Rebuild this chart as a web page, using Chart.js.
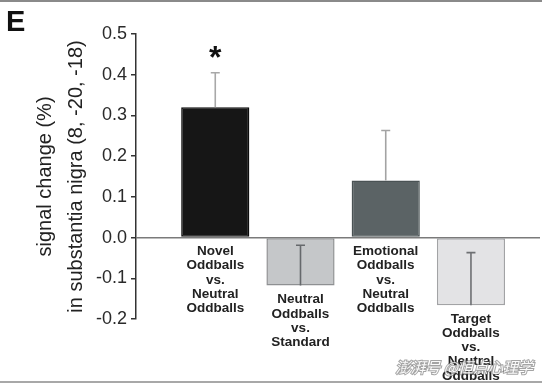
<!DOCTYPE html>
<html>
<head>
<meta charset="utf-8">
<script src="https://cdn.jsdelivr.net/npm/chart.js@4/dist/chart.umd.min.js"></script>
<style>
  html, body { margin: 0; padding: 0; background: #fff; }
  canvas { display: block; }
</style>
</head>
<body>
<canvas id="chart" width="542" height="383"></canvas>
<script>
// data
var categories = [
  ["Novel", "Oddballs", "vs.", "Neutral", "Oddballs"],
  ["Neutral", "Oddballs", "vs.", "Standard"],
  ["Emotional", "Oddballs", "vs.", "Neutral", "Oddballs"],
  ["Target", "Oddballs", "vs.", "Neutral", "Oddballs"]
];
var values = [0.32, -0.118, 0.14, -0.166];
var errors = [0.085, 0.099, 0.123, 0.129];
var marks = ["*", "", "", ""];
var yTicks = [0.5, 0.4, 0.3, 0.2, 0.1, 0.0, -0.1, -0.2];
var yTitle = ["signal change (%)", "in substantia nigra (8, -20, -18)"];
var panelLetter = "E";
var watermark = "澎湃号 @恒点心理学";

var barColors = ["#161616", "#c5c7c9", "#5b6365", "#e3e3e5"];
var borderColors = ["#0c0c0c", "#8e9092", "#4a5254", "#a2a3a5"];
var errColors = ["#a8a8a8", "#66696c", "#a3a3a3", "#6e7073"];

Chart.defaults.font.family = "'Liberation Sans', Arial, sans-serif";

var decor = {
  id: "decor",
  beforeDraw: function(chart) {
    var ctx = chart.ctx;
    ctx.save();
    ctx.fillStyle = "#fff";
    ctx.fillRect(0, 0, chart.width, chart.height);
    ctx.restore();
  },
  afterDatasetsDraw: function(chart) {
    var ctx = chart.ctx;
    var xs = chart.scales.x, ys = chart.scales.y;
    ctx.save();
    // error bars (drawn from the bar end upward)
    for (var i = 0; i < values.length; i++) {
      var x = xs.getPixelForValue(i + 1);
      var y0 = ys.getPixelForValue(values[i]);
      var y1 = ys.getPixelForValue(values[i] + errors[i]);
      ctx.strokeStyle = errColors[i];
      ctx.lineWidth = 1.6;
      ctx.beginPath();
      ctx.moveTo(x, y0);
      ctx.lineTo(x, y1);
      ctx.moveTo(x - 4.5, y1);
      ctx.lineTo(x + 4.5, y1);
      ctx.stroke();
      if (marks[i]) {
        ctx.fillStyle = "#111";
        ctx.font = "bold 32px 'Liberation Sans', Arial, sans-serif";
        ctx.textAlign = "center";
        ctx.textBaseline = "middle";
        ctx.fillText(marks[i], x, y1 - 14);
      }
    }
    // category labels under each bar
    ctx.fillStyle = "#222";
    ctx.font = "bold 13.5px 'Liberation Sans', Arial, sans-serif";
    ctx.textAlign = "center";
    ctx.textBaseline = "middle";
    for (var j = 0; j < categories.length; j++) {
      var cx = xs.getPixelForValue(j + 1);
      var base = ys.getPixelForValue(Math.min(values[j], 0)) + 14;
      categories[j].forEach(function(line, k) {
        ctx.fillText(line, cx, base + k * 14.2);
      });
    }
    ctx.restore();
  },
  afterDraw: function(chart) {
    var ctx = chart.ctx;
    ctx.save();
    // frame lines
    ctx.fillStyle = "#8a8a8a";
    ctx.fillRect(0, 0, chart.width, 2);
    ctx.fillStyle = "#a8a8a8";
    ctx.fillRect(0, chart.height - 2, chart.width, 2);
    // panel letter
    ctx.fillStyle = "#111";
    ctx.font = "bold 29px 'Liberation Sans', Arial, sans-serif";
    ctx.textAlign = "left";
    ctx.textBaseline = "alphabetic";
    ctx.fillText(panelLetter, 6, 31);
    // watermark
    ctx.font = "italic 15px 'Noto Sans CJK SC', sans-serif";
    ctx.textAlign = "right";
    ctx.lineWidth = 2;
    ctx.strokeStyle = "rgba(90,90,90,0.55)";
    ctx.strokeText(watermark, 533, 373);
    ctx.fillStyle = "rgba(255,255,255,0.95)";
    ctx.fillText(watermark, 533, 373);
    ctx.restore();
  }
};

new Chart(document.getElementById("chart"), {
  type: "bar",
  data: {
    datasets: [{
      data: values.map(function(v, i) { return { x: i + 1, y: v }; }),
      backgroundColor: barColors,
      borderColor: borderColors,
      borderWidth: 1.5,
      borderSkipped: false,
      barPercentage: 0.8,
      categoryPercentage: 1
    }]
  },
  options: {
    responsive: false,
    animation: false,
    layout: { padding: { left: 0, top: 34, right: 2, bottom: 64 } },
    plugins: { legend: { display: false }, tooltip: { enabled: false } },
    scales: {
      x: {
        type: "linear",
        display: false,
        offset: false,
        min: 0.07,
        max: 4.81,
        afterBuildTicks: function(scale) {
          scale.ticks = values.map(function(v, i) { return { value: i + 1 }; });
        }
      },
      y: {
        min: -0.2,
        max: 0.5,
        afterBuildTicks: function(scale) {
          scale.ticks = yTicks.map(function(v) { return { value: v }; });
        },
        afterFit: function(scale) { scale.width = 136; },
        border: { display: true, color: "#333", width: 1.5 },
        grid: {
          drawOnChartArea: true,
          color: function(c) { return c.tick && Math.abs(c.tick.value) < 1e-9 ? "#7a7a7a" : "rgba(0,0,0,0)"; },
          lineWidth: 1.5,
          tickColor: "#333",
          tickLength: 5
        },
        ticks: {
          color: "#2a2a2a",
          font: { size: 18 },
          padding: 4,
          callback: function(v) { return Number(v).toFixed(1); }
        },
        title: {
          display: true,
          text: yTitle,
          color: "#222",
          font: { size: 20, lineHeight: 1.55 },
          padding: { top: 30, bottom: 0 }
        }
      }
    }
  },
  plugins: [decor]
});
</script>
</body>
</html>
